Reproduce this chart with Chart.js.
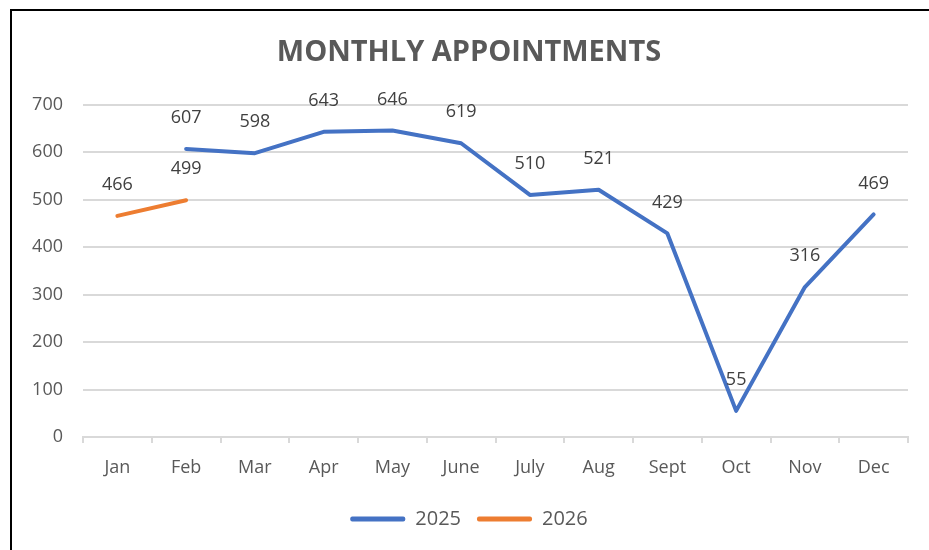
<!DOCTYPE html>
<html>
<head>
<meta charset="utf-8">
<script src="https://cdn.jsdelivr.net/npm/chart.js@4.4.1/dist/chart.umd.min.js"></script>
<style>
  html, body { margin: 0; padding: 0; background: #fff; }
  #frame {
    position: absolute; left: 10px; top: 9px; width: 919px; height: 541px;
    border-left: 2px solid #000; border-top: 2px solid #000;
  }
  #wrap { position: absolute; left: 0; top: 0; width: 929px; height: 550px; }
</style>
</head>
<body>
<div id="frame"></div>
<div id="wrap"><canvas id="apptChart"></canvas></div>
<script>
// chart data
const months = ["Jan", "Feb", "Mar", "Apr", "May", "June", "July", "Aug", "Sept", "Oct", "Nov", "Dec"];
const appts2025 = [null, 607, 598, 643, 646, 619, 510, 521, 429, 55, 316, 469];
const appts2026 = [466, 499, null, null, null, null, null, null, null, null, null, null];
const yTicks = [0, 100, 200, 300, 400, 500, 600, 700];

const FONT = "'Open Sans', 'Noto Sans', sans-serif";

// value labels above each point
const pointLabels = {
  id: "pointLabels",
  afterDatasetsDraw(chart) {
    const ctx = chart.ctx;
    ctx.save();
    ctx.font = "18px " + FONT;
    ctx.fillStyle = "#404040";
    ctx.textAlign = "center";
    ctx.textBaseline = "middle";
    chart.data.datasets.forEach((ds, i) => {
      const meta = chart.getDatasetMeta(i);
      meta.data.forEach((pt, j) => {
        const v = ds.data[j];
        if (v == null) return;
        ctx.fillText(String(v), pt.x, pt.y - 31);
      });
    });
    ctx.restore();
  },
};

document.addEventListener("DOMContentLoaded", function () {
  const ctx = document.getElementById("apptChart");
  new Chart(ctx, {
    type: "line",
    data: {
      labels: months,
      datasets: [
        {
          label: "2025",
          data: appts2025,
          borderColor: "#4472C4",
          backgroundColor: "#4472C4",
          borderWidth: 4,
          pointRadius: 0,
          borderCapStyle: "round",
          borderJoinStyle: "round",
          tension: 0,
        },
        {
          label: "2026",
          data: appts2026,
          borderColor: "#ED7D31",
          backgroundColor: "#ED7D31",
          borderWidth: 4,
          pointRadius: 0,
          borderCapStyle: "round",
          borderJoinStyle: "round",
          tension: 0,
        },
      ],
    },
    options: {
      responsive: true,
      maintainAspectRatio: false,
      animation: false,
      layout: { padding: { left: 30, right: 21, top: 0, bottom: 11 } },
      plugins: {
        tooltip: { enabled: false },
        title: {
          display: true,
          text: "MONTHLY APPOINTMENTS",
          color: "#595959",
          font: { family: FONT, size: 29, weight: "bold" },
          padding: { top: 35, bottom: 35 },
        },
        legend: {
          position: "bottom",
          labels: {
            color: "#595959",
            font: { family: FONT, size: 20 },
            boxWidth: 55,
            boxHeight: 5,
            padding: 16,
            useBorderRadius: true,
            borderRadius: 2,
            generateLabels(chart) {
              return chart.data.datasets.map((ds, i) => ({
                text: ds.label,
                fillStyle: ds.borderColor,
                strokeStyle: ds.borderColor,
                lineWidth: 0,
                fontColor: "#595959",
                borderRadius: 2,
                datasetIndex: i,
                hidden: false,
              }));
            },
          },
        },
      },
      scales: {
        x: {
          offset: true,
          grid: {
            offset: true,
            drawOnChartArea: false,
            color: "#d9d9d9",
            lineWidth: 2,
            tickLength: 6,
          },
          border: { color: "#d9d9d9", width: 2 },
          ticks: {
            color: "#595959",
            font: { family: FONT, size: 18 },
            padding: 14,
            maxRotation: 0,
          },
          afterFit(scale) { scale.height = 56; },
        },
        y: {
          min: 0,
          max: 700,
          afterBuildTicks(scale) { scale.ticks = yTicks.map((v) => ({ value: v })); },
          grid: { color: "#d9d9d9", lineWidth: 2, drawTicks: false },
          border: { display: false },
          ticks: {
            color: "#595959",
            font: { family: FONT, size: 18 },
            padding: 20,
          },
          afterFit(scale) { scale.width = 53; },
        },
      },
    },
    plugins: [pointLabels],
  });
});
</script>
</body>
</html>
